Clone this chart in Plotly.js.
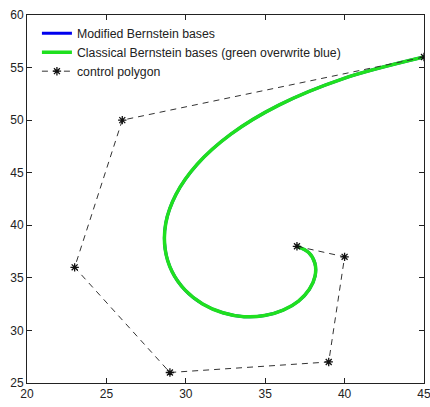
<!DOCTYPE html>
<html><head><meta charset="utf-8">
<script src="https://cdn.plot.ly/plotly-3.0.1.min.js"></script>
<style>html,body{margin:0;padding:0;background:#fff;}</style>
</head><body><div id="chart" style="width:430px;height:407px;"></div>
<script>
// control polygon points
var ctrlX = [37, 40, 39, 29, 23, 26, 45];
var ctrlY = [38, 37, 27, 26, 36, 50, 56];
// curve points
var curveX = [37.0, 37.74, 38.13, 38.14, 37.78, 37.10, 36.13, 34.96, 33.66, 32.33, 31.06, 29.96, 29.14, 28.70, 28.74, 29.38, 30.71, 32.84, 35.86, 39.88, 45.0];
var curveY = [38.0, 37.41, 36.39, 35.16, 33.91, 32.79, 31.93, 31.41, 31.31, 31.68, 32.52, 33.83, 35.58, 37.73, 40.21, 42.93, 45.79, 48.67, 51.43, 53.93, 56.0];
var seriesNames = ['Modified Bernstein bases', 'Classical Bernstein bases (green overwrite blue)', 'control polygon'];
var xTicks = [20, 25, 30, 35, 40, 45];
var yTicks = [25, 30, 35, 40, 45, 50, 55, 60];

var traces = [
  {x: curveX, y: curveY, mode: 'lines', name: seriesNames[0], line: {color: '#0000ee', width: 3, shape: 'spline'}},
  {x: curveX, y: curveY, mode: 'lines', name: seriesNames[1], line: {color: '#1fe01f', width: 3.5, shape: 'spline'}},
  {x: ctrlX, y: ctrlY, mode: 'lines+markers', name: seriesNames[2],
   line: {color: '#333333', width: 1, dash: '6px,5px'},
   marker: {symbol: 'asterisk-open', size: 7, color: '#111', line: {color: '#111', width: 1.3}}}
];
var axisCommon = {
  showgrid: false, zeroline: false, showline: true, mirror: 'ticks', linecolor: '#222', linewidth: 1,
  ticks: 'inside', ticklen: 5, tickcolor: '#222', ticklabeloverflow: 'allow',
  tickfont: {family: 'Liberation Sans, Arial, sans-serif', size: 12, color: '#222'}
};
var layout = {
  width: 430, height: 407,
  margin: {l: 27, r: 6, t: 15, b: 24},
  paper_bgcolor: '#fff', plot_bgcolor: '#fff',
  showlegend: true,
  legend: {x: 0.025, y: 0.99, xanchor: 'left', yanchor: 'top', bgcolor: 'rgba(255,255,255,0)',
    borderwidth: 0, font: {family: 'Liberation Sans, Arial, sans-serif', size: 12.3, color: '#222'},
    tracegroupgap: 0, itemwidth: 30},
  xaxis: Object.assign({}, axisCommon, {range: [20, 45], tickvals: xTicks, ticktext: xTicks.map(String)}),
  yaxis: Object.assign({}, axisCommon, {range: [25, 60], tickvals: yTicks, ticktext: yTicks.map(String)})
};
Plotly.newPlot('chart', traces, layout, {displayModeBar: false, staticPlot: true});
</script></body></html>
